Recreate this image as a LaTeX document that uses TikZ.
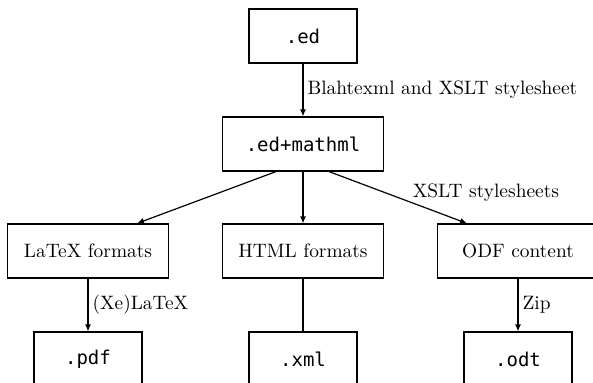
\documentclass[tikz,border=0pt]{standalone}
\usepackage{fontspec}
\setmonofont{DejaVu Sans Mono}
\usetikzlibrary{arrows.meta,calc}
\newcommand{\sctxt}[1]{\scalebox{1.94}{#1}}
\newcommand{\sctt}[1]{\scalebox{1.9}{\ttfamily #1}}
\begin{document}
\begin{tikzpicture}[x=1pt,y=-1pt,
  box/.style={draw, line width=1.2pt, minimum height=54pt, inner sep=0pt},
  smallbox/.style={box, minimum width=108pt},
  widebox/.style={box, minimum width=161pt},
  conn/.style={line width=1.2pt},
  arr/.style={conn, -{Latex[length=7pt,width=6pt]}},
  lbl/.style={inner sep=4pt}]
\useasboundingbox (0,0) rectangle (593,382);
\clip (0,0) rectangle (593,382);
\node[smallbox] (ed) at (303,36) {\sctt{.ed}};
\node[widebox] (mathml) at (303,144) {\sctt{.ed+mathml}};
\node[widebox] (latex) at (88,251) {\sctxt{LaTeX formats}};
\node[widebox] (html) at (303,251) {\sctxt{HTML formats}};
\node[widebox] (odf) at (518,251) {\sctxt{ODF content}};
\node[smallbox] (pdf) at (88,359) {\sctt{.pdf}};
\node[smallbox] (xml) at (303,359) {\sctt{.xml}};
\node[smallbox] (odt) at (518,359) {\sctt{.odt}};
\draw[arr] (ed) -- node[lbl, right] {\sctxt{Blahtexml and XSLT stylesheet}} (mathml);
\draw[arr] ([xshift=-27pt]mathml.south) -- ([xshift=49pt]latex.north);
\draw[arr] (mathml) -- (html);
\draw[arr] ([xshift=26pt]mathml.south) -- node[lbl, pos=0.415, anchor=west, xshift=22pt] {\sctxt{XSLT stylesheets}} ([xshift=-51pt]odf.north);
\draw[arr] (latex) -- node[lbl, right] {\sctxt{(Xe)LaTeX}} (pdf);
\draw[conn] (html) -- (xml);
\draw[arr] (odf) -- node[lbl, right] {\sctxt{Zip}} (odt);
\end{tikzpicture}
\end{document}
